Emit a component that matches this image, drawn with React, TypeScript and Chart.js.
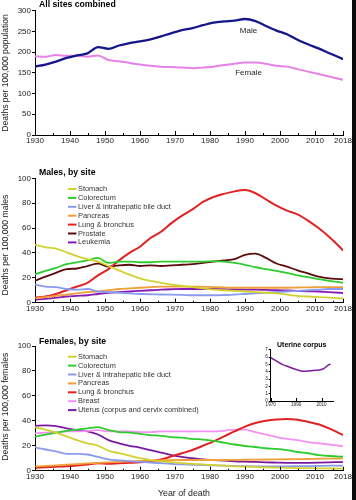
import React, { useEffect, useRef } from "react";
import { Chart, registerables } from "chart.js";

Chart.register(...registerables);

const FONT = "'Liberation Sans', Arial, Helvetica, sans-serif";
Chart.defaults.font.family = FONT;

// ---------- data ----------
const YEARS = [1930, 1933, 1936, 1939, 1942, 1945, 1948, 1951, 1954, 1957, 1960, 1963, 1966, 1969, 1972, 1975, 1978, 1981, 1984, 1987, 1990, 1993, 1996, 1999, 2002, 2005, 2008, 2011, 2014, 2017, 2018];
const X_TICKS = [1930, 1940, 1950, 1960, 1970, 1980, 1990, 2000, 2010, 2018];
const X_MINOR = [1935, 1945, 1955, 1965, 1975, 1985, 1995, 2005, 2015];

const MALE_ALL = [165, 170, 177, 186, 192, 197, 212, 208, 216, 222, 226, 231, 238, 246, 253, 258, 265, 271, 274, 276, 280, 275, 263, 252, 243, 230, 219, 209, 198, 187, 183];
const FEMALE_ALL = [190, 189, 193, 191, 191, 189, 192, 181, 178, 174, 170, 167, 165, 164, 163, 161, 163, 165, 169, 172, 175, 175, 172, 167, 165, 159, 153, 147, 141, 135, 133];

const MALE_SITES = ["Stomach", "Colorectum", "Liver & intrahepatic bile duct", "Pancreas", "Lung & bronchus", "Prostate", "Leukemia"];
const M_STOMACH = [46.5, 44.5, 43.5, 40.5, 37.5, 35, 33, 29.5, 26, 22.5, 19.5, 17.5, 16, 14.5, 13.5, 12.5, 11.5, 10.5, 10, 9.5, 9, 8.5, 8, 7.5, 6.5, 5.5, 5, 4.5, 4, 3.5, 3.5];
const M_COLORECTUM = [22.8, 25.5, 28, 31, 32.5, 34, 36, 32, 33, 33, 32.5, 32.5, 33, 33, 33, 33, 33, 33.5, 33, 32, 30.5, 28.5, 27, 25.5, 24, 22, 20.5, 19, 17.5, 16.5, 16];
const M_LIVER = [14.5, 13, 12.5, 11, 10.5, 11, 9, 8.5, 8, 7.5, 7, 6.8, 6.6, 6.5, 6.3, 6, 6, 6, 6.2, 6.5, 7, 7.5, 8, 8.5, 9, 9.5, 10, 10.5, 11, 11, 11];
const M_PANCREAS = [3.5, 4.5, 5.5, 6.5, 7.5, 8.5, 9, 10, 11, 11.5, 12, 12.5, 13, 13, 13, 13, 12.8, 12.5, 12.3, 12, 12, 12, 12, 12, 12, 12.2, 12.3, 12.5, 12.6, 12.6, 12.6];
const M_LUNG = [4, 5, 7, 10, 13, 16, 22, 27, 34, 40, 45, 52, 57, 64, 70, 75, 81, 85, 87.5, 89.5, 90.5, 88, 83, 78, 74, 71, 66, 60, 53, 45, 42];
const M_PROSTATE = [17.7, 21, 24, 27, 27.5, 29.5, 31.5, 29, 30, 30.5, 29.5, 30, 29.5, 30, 30.5, 31, 32, 33, 34, 35, 38.5, 39.5, 36, 31.5, 29, 26, 23.5, 21, 19.5, 19, 18.8];
const M_LEUKEMIA = [2.5, 3, 4, 5, 5.5, 6, 7, 8, 8.5, 9, 9.5, 10, 10.5, 10.8, 11, 11, 11, 11, 10.8, 10.6, 10.5, 10.5, 10.3, 10, 9.8, 9.5, 9.2, 9, 8.5, 8, 7.8];

const FEMALE_SITES = ["Stomach", "Colorectum", "Liver & intrahepatic bile duct", "Pancreas", "Lung & bronchus", "Breast", "Uterus (corpus and cervix combined)"];
const F_STOMACH = [34.8, 33, 30.5, 27.5, 24.5, 22, 20, 16, 14, 12, 10, 8.5, 7.5, 6.8, 6, 5.5, 5, 4.5, 4, 3.5, 3.3, 3, 2.7, 2.5, 2.3, 2.1, 2, 1.9, 1.8, 1.7, 1.6];
const F_COLORECTUM = [27.3, 29, 30.5, 32, 33, 34, 35, 32.5, 31, 30.5, 29.5, 28.5, 28, 27, 26.5, 25.5, 25, 24, 22.5, 21, 19.8, 19, 18, 17.5, 16.5, 15, 14, 12.5, 11.8, 11.3, 11.2];
const F_LIVER = [18.7, 17, 15.5, 13.5, 13.5, 13, 11, 9, 8.2, 7.6, 7.1, 6.5, 6, 5.5, 5, 4.7, 4.4, 4.2, 4, 3.8, 3.6, 3.5, 3.5, 3.5, 3.5, 3.6, 3.7, 3.8, 4, 4.1, 4.1];
const F_PANCREAS = [3.2, 3.8, 4.3, 4.8, 5.3, 5.8, 6.2, 6.6, 7, 7.4, 7.8, 8.1, 8.3, 8.5, 8.6, 8.6, 8.6, 8.6, 8.6, 8.7, 8.8, 8.9, 9, 9.1, 9.2, 9.3, 9.4, 9.6, 9.7, 9.8, 9.9];
const F_LUNG = [2.4, 2.8, 3.2, 3.6, 4.2, 5, 6, 5.5, 6, 6.3, 6.7, 7.6, 9, 11.5, 14, 16.6, 20, 23.5, 27.5, 31.5, 35.3, 38.2, 40, 41, 41.4, 40.8, 39.2, 37.2, 34, 30, 28.6];
const F_BREAST = [30, 30.5, 31, 31.5, 31.5, 32, 32.5, 31.5, 31.5, 31.5, 31, 31, 31.5, 31.5, 31.5, 31.5, 31.5, 31.5, 32, 33, 33, 31, 29, 27, 25.5, 24.5, 23, 22, 21, 20, 19.5];
const F_UTERUS = [36, 36.3, 35.8, 34, 32.5, 31.5, 29, 24.5, 22, 20, 18.5, 16.5, 14.5, 12.5, 11, 10, 9, 8.5, 8, 7.5, 7.2, 7, 6.7, 6.5, 6.3, 6.3, 6.3, 6.4, 6.6, 6.9, 7];

const CORPUS_YEARS = [1970, 1973, 1976, 1979, 1982, 1985, 1988, 1991, 1994, 1997, 2000, 2003, 2006, 2009, 2012, 2015, 2017];
const CORPUS_VALUES = [5.9, 5.6, 5.3, 5.0, 4.8, 4.6, 4.4, 4.25, 4.1, 4.05, 4.1, 4.15, 4.2, 4.25, 4.45, 4.85, 5.05];
const INSET_X_TICKS = [1970, 1990, 2010];

// ---------- styles ----------
const C_MALE = "#16168c";
const C_FEMALE = "#e682e6";
const C_STOMACH = "#d2d22e";
const C_COLORECTUM = "#2ecc2e";
const C_LIVER = "#8a9aee";
const C_PANCREAS = "#f0a038";
const C_LUNG = "#e02222";
const C_PROSTATE = "#5c0c0c";
const C_LEUKEMIA = "#8a1ab4";
const C_BREAST = "#f292f2";
const C_UTERUS = "#7c1a9e";
const TEXT = "#222";

function series(label: string, xs: number[], ys: number[], color: string, width: number) {
  return {
    label,
    data: xs.map((x, i) => ({ x, y: ys[i] })),
    borderColor: color,
    backgroundColor: color,
    borderWidth: width,
    pointRadius: 0,
    fill: false,
    cubicInterpolationMode: "monotone" as const,
  };
}

type TextItem = {
  text: string;
  x: number;
  y: number;
  size: number;
  bold?: boolean;
  align?: CanvasTextAlign;
  rot?: number;
  data?: boolean;
};

type Spec = {
  left: number;
  top: number;
  width: number;
  height: number;
  area: { left: number; right: number; top: number; bottom: number };
  xMin: number;
  xMax: number;
  xTicks: number[];
  xMinor: number[];
  yMax: number;
  yStep: number;
  tickSize: number;
  tickLen: number;
  datasets: any[];
  texts: TextItem[];
  legend?: { x: number; y: number; dy: number; len: number; size: number };
};

function makeOverlay(spec: Spec) {
  return {
    id: "overlay",
    afterDraw(chart: any) {
      const ctx: CanvasRenderingContext2D = chart.ctx;
      const xs = chart.scales.x;
      const ys = chart.scales.y;
      const bottom = chart.chartArea.bottom;
      ctx.save();
      ctx.strokeStyle = "#000";
      ctx.lineWidth = 1;
      const drawTick = (v: number, len: number) => {
        const px = Math.round(xs.getPixelForValue(v)) + 0.5;
        ctx.beginPath();
        ctx.moveTo(px, bottom);
        ctx.lineTo(px, bottom - len);
        ctx.stroke();
      };
      spec.xTicks.forEach((v) => drawTick(v, spec.tickLen + 1));
      spec.xMinor.forEach((v) => drawTick(v, Math.max(1.5, spec.tickLen - 1)));
      if (spec.legend) {
        const lg = spec.legend;
        ctx.font = `${lg.size}px ${FONT}`;
        ctx.textBaseline = "middle";
        ctx.textAlign = "left";
        chart.data.datasets.forEach((ds: any, i: number) => {
          const y = lg.y + i * lg.dy;
          ctx.strokeStyle = ds.borderColor;
          ctx.lineWidth = 2;
          ctx.beginPath();
          ctx.moveTo(lg.x, y);
          ctx.lineTo(lg.x + lg.len, y);
          ctx.stroke();
          ctx.fillStyle = "#333";
          ctx.fillText(ds.label, lg.x + lg.len + 1.5, y);
        });
      }
      spec.texts.forEach((t) => {
        const px = t.data ? xs.getPixelForValue(t.x) : t.x;
        const py = t.data ? ys.getPixelForValue(t.y) : t.y;
        ctx.save();
        ctx.translate(px, py);
        if (t.rot) ctx.rotate(t.rot);
        ctx.font = `${t.bold ? "bold " : ""}${t.size}px ${FONT}`;
        ctx.fillStyle = t.bold ? "#000" : TEXT;
        ctx.textAlign = t.align || "center";
        ctx.textBaseline = "middle";
        ctx.fillText(t.text, 0, 0);
        ctx.restore();
      });
      ctx.restore();
    },
  };
}

function buildConfig(spec: Spec): any {
  return {
    type: "line",
    data: { datasets: spec.datasets },
    options: {
      animation: false,
      responsive: false,
      maintainAspectRatio: false,
      layout: {
        padding: { left: 0, top: spec.area.top, right: spec.width - spec.area.right, bottom: 0 },
      },
      plugins: {
        legend: { display: false },
        tooltip: { enabled: false },
        title: { display: false },
      },
      scales: {
        x: {
          type: "linear",
          min: spec.xMin,
          max: spec.xMax,
          afterBuildTicks: (s: any) => {
            s.ticks = spec.xTicks.map((v) => ({ value: v }));
          },
          afterFit: (s: any) => {
            s.height = spec.height - spec.area.bottom;
          },
          grid: { display: false, drawTicks: false },
          border: { display: true, color: "#000", width: 1 },
          ticks: {
            autoSkip: false,
            maxRotation: 0,
            padding: 1,
            color: TEXT,
            font: { size: spec.tickSize },
            callback: (v: any) => String(v),
          },
        },
        y: {
          type: "linear",
          min: 0,
          max: spec.yMax,
          afterFit: (s: any) => {
            s.width = spec.area.left;
          },
          grid: {
            display: true,
            drawOnChartArea: false,
            drawTicks: true,
            tickLength: spec.tickLen,
            color: "#000",
          },
          border: { display: true, color: "#000", width: 1 },
          ticks: {
            stepSize: spec.yStep,
            autoSkip: false,
            padding: 1,
            color: TEXT,
            font: { size: spec.tickSize },
            callback: (v: any) => String(v),
          },
        },
      },
    },
    plugins: [makeOverlay(spec)],
  };
}

function ChartCanvas({ spec }: { spec: Spec }) {
  const ref = useRef<HTMLCanvasElement>(null);
  useEffect(() => {
    const chart = new Chart(ref.current as HTMLCanvasElement, buildConfig(spec));
    return () => chart.destroy();
  }, []);
  return (
    <canvas
      ref={ref}
      width={spec.width}
      height={spec.height}
      style={{ position: "absolute", left: spec.left, top: spec.top, width: spec.width, height: spec.height }}
    />
  );
}

const ROT = -Math.PI / 2;

const panel1: Spec = {
  left: 0,
  top: 0,
  width: 356,
  height: 160,
  area: { left: 35, right: 343, top: 10.7, bottom: 135 },
  xMin: 1930,
  xMax: 2018,
  xTicks: X_TICKS,
  xMinor: X_MINOR,
  yMax: 300,
  yStep: 50,
  tickSize: 8,
  tickLen: 3,
  datasets: [
    series("Male", YEARS, MALE_ALL, C_MALE, 2.3),
    series("Female", YEARS, FEMALE_ALL, C_FEMALE, 2),
  ],
  texts: [
    { text: "All sites combined", x: 39, y: 5, size: 8.7, bold: true, align: "left" },
    { text: "Deaths per 100,000 population", x: 5.5, y: 73, size: 8.6, rot: ROT },
    { text: "Male", x: 1991, y: 252, size: 8, data: true },
    { text: "Female", x: 1991, y: 149, size: 8, data: true },
  ],
};

const panel2: Spec = {
  left: 0,
  top: 160,
  width: 356,
  height: 160,
  area: { left: 35, right: 343, top: 18.3, bottom: 142.7 },
  xMin: 1930,
  xMax: 2018,
  xTicks: X_TICKS,
  xMinor: X_MINOR,
  yMax: 100,
  yStep: 20,
  tickSize: 8,
  tickLen: 3,
  datasets: [
    series(MALE_SITES[0], YEARS, M_STOMACH, C_STOMACH, 1.8),
    series(MALE_SITES[1], YEARS, M_COLORECTUM, C_COLORECTUM, 1.8),
    series(MALE_SITES[2], YEARS, M_LIVER, C_LIVER, 1.8),
    series(MALE_SITES[3], YEARS, M_PANCREAS, C_PANCREAS, 1.8),
    series(MALE_SITES[4], YEARS, M_LUNG, C_LUNG, 2),
    series(MALE_SITES[5], YEARS, M_PROSTATE, C_PROSTATE, 1.8),
    series(MALE_SITES[6], YEARS, M_LEUKEMIA, C_LEUKEMIA, 1.8),
  ],
  texts: [
    { text: "Males, by site", x: 39, y: 12.7, size: 8.7, bold: true, align: "left" },
    { text: "Deaths per 100,000 males", x: 5.5, y: 85, size: 8.6, rot: ROT },
  ],
  legend: { x: 68, y: 29, dy: 8.9, len: 8.5, size: 7.4 },
};

const panel3: Spec = {
  left: 0,
  top: 320,
  width: 356,
  height: 180,
  area: { left: 35, right: 343, top: 26, bottom: 150.7 },
  xMin: 1930,
  xMax: 2018,
  xTicks: X_TICKS,
  xMinor: X_MINOR,
  yMax: 100,
  yStep: 20,
  tickSize: 8,
  tickLen: 3,
  datasets: [
    series(FEMALE_SITES[0], YEARS, F_STOMACH, C_STOMACH, 1.8),
    series(FEMALE_SITES[1], YEARS, F_COLORECTUM, C_COLORECTUM, 1.8),
    series(FEMALE_SITES[2], YEARS, F_LIVER, C_LIVER, 1.8),
    series(FEMALE_SITES[3], YEARS, F_PANCREAS, C_PANCREAS, 1.8),
    series(FEMALE_SITES[4], YEARS, F_LUNG, C_LUNG, 2),
    series(FEMALE_SITES[5], YEARS, F_BREAST, C_BREAST, 1.8),
    series(FEMALE_SITES[6], YEARS, F_UTERUS, C_UTERUS, 1.8),
  ],
  texts: [
    { text: "Females, by site", x: 39, y: 21.7, size: 8.7, bold: true, align: "left" },
    { text: "Deaths per 100,000 females", x: 5.5, y: 86.7, size: 8.6, rot: ROT },
    { text: "Year of death", x: 184, y: 174, size: 8.8 },
  ],
  legend: { x: 68, y: 36.7, dy: 8.9, len: 8.5, size: 7.4 },
};

const inset: Spec = {
  left: 250,
  top: 330,
  width: 100,
  height: 85,
  area: { left: 20.7, right: 83, top: 19.7, bottom: 71 },
  xMin: 1970,
  xMax: 2019,
  xTicks: INSET_X_TICKS,
  xMinor: [],
  yMax: 7,
  yStep: 1,
  tickSize: 4.6,
  tickLen: 2,
  datasets: [series("Uterine corpus", CORPUS_YEARS, CORPUS_VALUES, C_UTERUS, 1.5)],
  texts: [{ text: "Uterine corpus", x: 51.7, y: 15.3, size: 7, bold: true }],
};

export default function App() {
  return (
    <div style={{ position: "absolute", left: 0, top: 0, width: 356, height: 500, background: "#fff", overflow: "hidden" }}>
      <ChartCanvas spec={panel1} />
      <ChartCanvas spec={panel2} />
      <ChartCanvas spec={panel3} />
      <ChartCanvas spec={inset} />
      <div style={{ position: "absolute", left: 352, top: 0, width: 4, height: 500, background: "#0b0b0b" }} />
    </div>
  );
}
